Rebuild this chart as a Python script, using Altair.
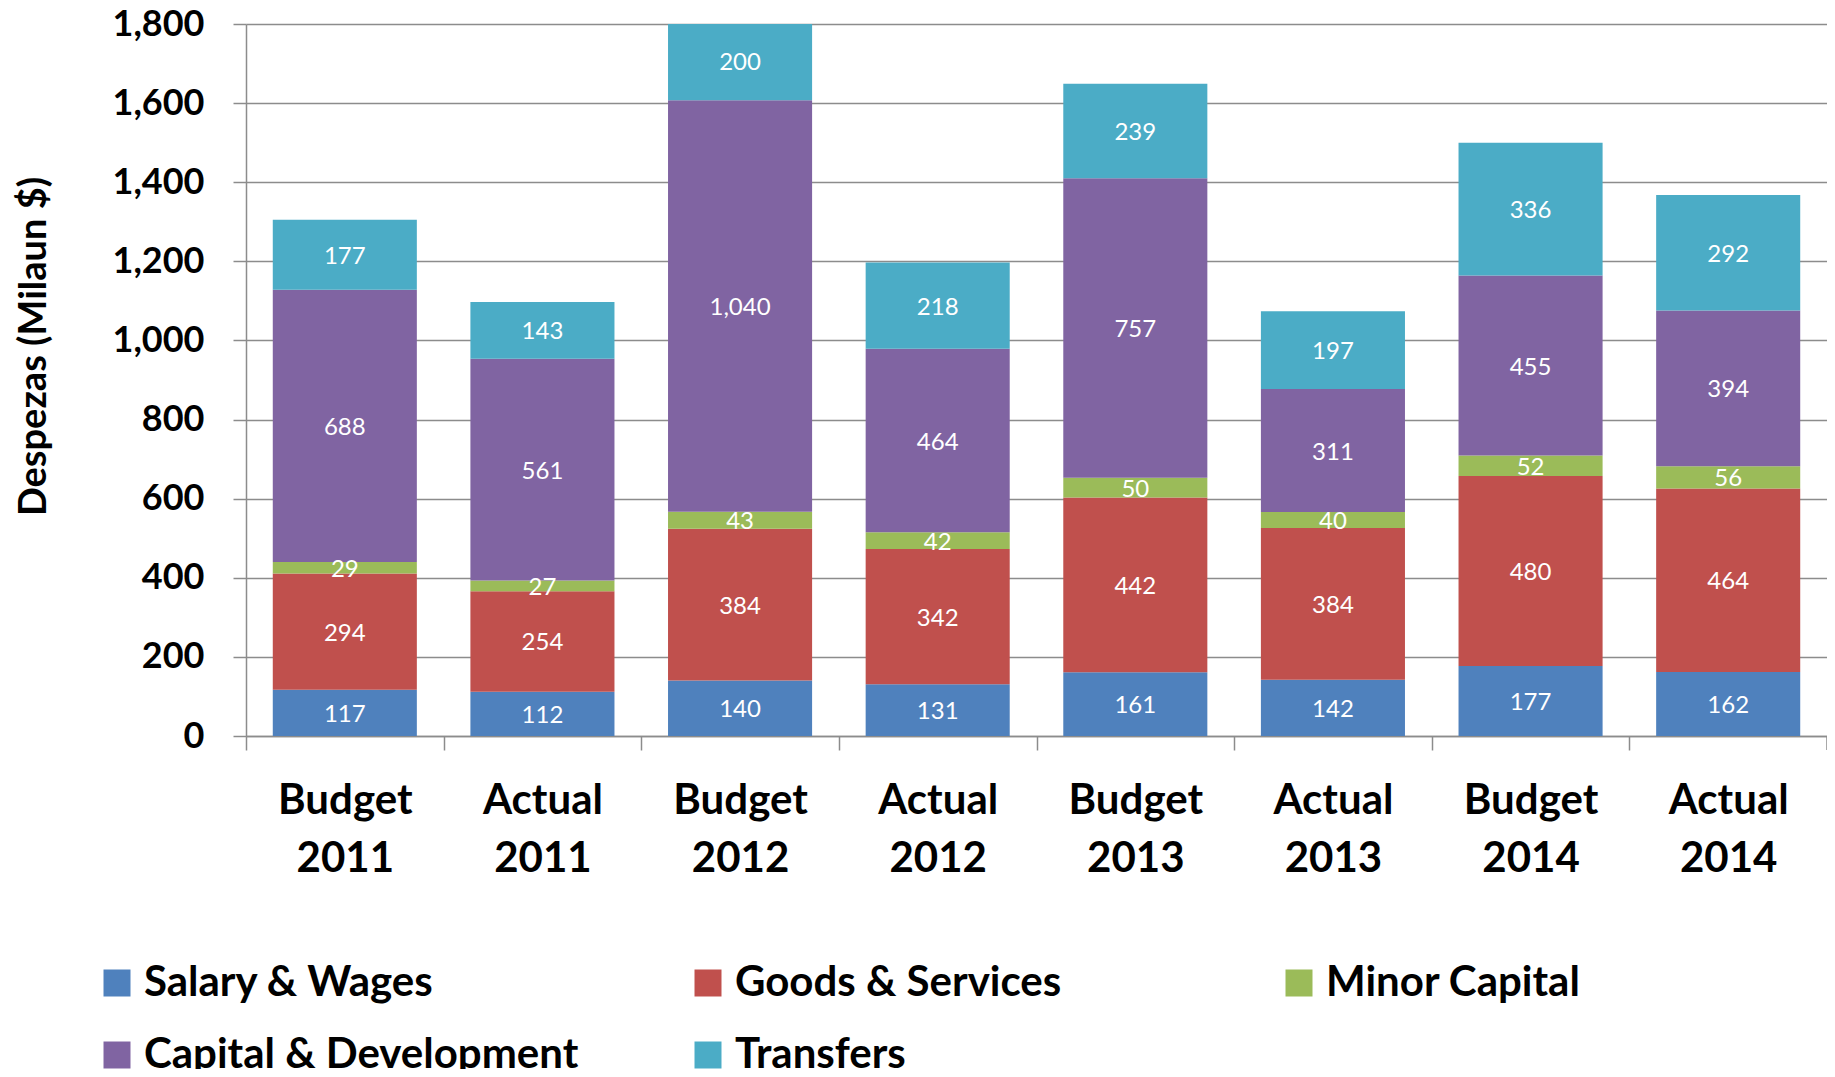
import altair as alt
import pandas as pd

categories = ["Budget 2011", "Actual 2011", "Budget 2012", "Actual 2012",
              "Budget 2013", "Actual 2013", "Budget 2014", "Actual 2014"]
series = ["Salary & Wages", "Goods & Services", "Minor Capital",
          "Capital & Development", "Transfers"]
colors = ["#4F81BD", "#C0504D", "#9BBB59", "#8064A2", "#4BACC6"]

salary = [117, 112, 140, 131, 161, 142, 177, 162]
goods = [294, 254, 384, 342, 442, 384, 480, 464]
minor = [29, 27, 43, 42, 50, 40, 52, 56]
capital = [688, 561, 1040, 464, 757, 311, 455, 394]
transfers = [177, 143, 200, 218, 239, 197, 336, 292]

y_ticks = [0, 200, 400, 600, 800, 1000, 1200, 1400, 1600, 1800]

rows = []
for si, (name, vals) in enumerate(zip(series, [salary, goods, minor, capital, transfers])):
    for c, v in zip(categories, vals):
        rows.append({"cat": c, "series": name, "idx": si, "value": v})
df = pd.DataFrame(rows)

FONT = "Lato"
GRID = "#8C8C8C"
W, H = 1581, 712
STEP = W / (len(categories) - 0.271 + 2 * 0.1355)

base = alt.Chart(df).transform_stack(
    stack="value", as_=["y0", "y1"], groupby=["cat"],
    sort=[alt.SortField("idx", order="ascending")]
).transform_calculate(mid="(datum.y0 + datum.y1) / 2")

xscale = alt.Scale(domain=categories, paddingInner=0.271, paddingOuter=0.1355)
yscale = alt.Scale(domain=[0, 1800], nice=False)

bars = base.mark_bar(clip=True).encode(
    x=alt.X("cat:N", scale=xscale, sort=categories,
            axis=alt.Axis(title=None, labelExpr="split(datum.label, ' ')",
                          labelFont=FONT, labelFontWeight="bold", labelFontSize=42,
                          labelColor="#000000", labelLineHeight=58, labelPadding=30,
                          labelAngle=0, tickOffset=-STEP / 2, labelOffset=STEP / 2,
                          tickSize=14, tickColor=GRID, tickWidth=1.5,
                          domainColor=GRID, domainWidth=1.5, grid=False)),
    y=alt.Y("y1:Q", scale=yscale,
            axis=alt.Axis(title="Despezas (Milaun $)", values=y_ticks,
                          labelExpr="format(datum.value, ',')",
                          labelFont=FONT, labelFontWeight="bold", labelFontSize=36,
                          labelColor="#000000", labelPadding=29, tickSize=13,
                          tickColor=GRID, tickWidth=1.5, domainColor=GRID,
                          domainWidth=1.5, grid=True, gridColor=GRID, gridWidth=1.5,
                          titleFont=FONT, titleFontWeight="bold", titleFontSize=38,
                          titleColor="#000000", titleX=-212, titleY=322,
                          titleBaseline="middle", titleAngle=270)),
    y2="y0:Q",
    color=alt.Color("series:N", scale=alt.Scale(domain=series, range=colors),
                    legend=alt.Legend(title=None, orient="none", legendX=-150,
                                      legendY=938, direction="horizontal",
                                      columns=3, gridAlign="all", columnPadding=108,
                                      rowPadding=30, symbolType="square",
                                      symbolSize=729, symbolStrokeWidth=0,
                                      labelFont=FONT, labelFontWeight="bold",
                                      labelFontSize=42, labelColor="#000000",
                                      labelOffset=6, labelLimit=0, padding=0)),
    order=alt.Order("idx:Q", sort="ascending"),
)

labels = base.mark_text(font=FONT, fontSize=24, color="white",
                        baseline="middle", align="center", dy=2).encode(
    x=alt.X("cat:N", scale=xscale, sort=categories),
    y=alt.Y("mid:Q", scale=yscale),
    text=alt.Text("value:Q", format=","),
)

end_tick = alt.Chart(pd.DataFrame({"k": [0]})).mark_rule(
    color=GRID, strokeWidth=1.5
).encode(x=alt.value(W), y=alt.value(H), y2=alt.value(H + 14))

chart = alt.layer(bars, labels, end_tick).properties(
    width=W, height=H, autosize="none",
    padding={"left": 238, "top": 16, "right": 0, "bottom": 333},
    background="white",
).configure_view(stroke=None)

chart.save("out.html", embed_options={"renderer": "svg", "actions": False})
